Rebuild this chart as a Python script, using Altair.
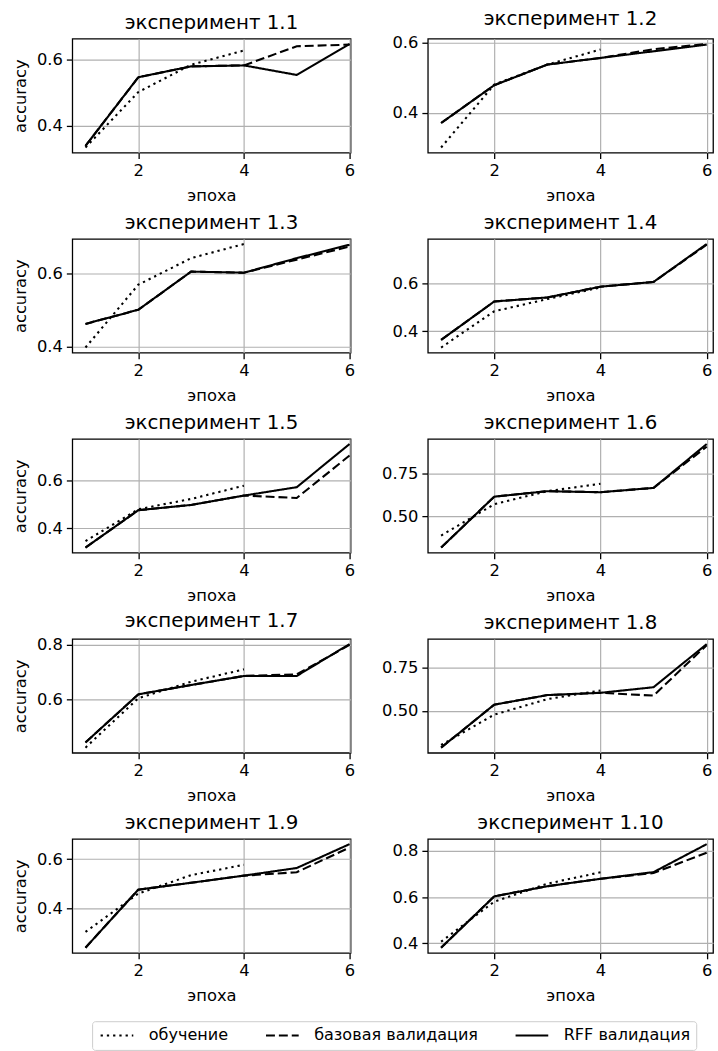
import altair as alt
import pandas as pd

FONT = "DejaVu Sans"

EPOCHS_TRAIN = [1, 2, 3, 4]
EPOCHS_VAL = [1, 2, 3, 4, 5, 6]
SERIES = ["обучение", "базовая валидация", "RFF валидация"]
TITLES = ["эксперимент 1.1", "эксперимент 1.2", "эксперимент 1.3", "эксперимент 1.4",
          "эксперимент 1.5", "эксперимент 1.6", "эксперимент 1.7", "эксперимент 1.8",
          "эксперимент 1.9", "эксперимент 1.10"]

TRAIN = [
    [0.334, 0.502, 0.585, 0.628],
    [0.301, 0.481, 0.538, 0.581],
    [0.397, 0.570, 0.643, 0.682],
    [0.331, 0.483, 0.534, 0.583],
    [0.346, 0.479, 0.522, 0.577],
    [0.388, 0.570, 0.646, 0.689],
    [0.425, 0.605, 0.665, 0.710],
    [0.305, 0.479, 0.568, 0.617],
    [0.304, 0.460, 0.535, 0.577],
    [0.407, 0.580, 0.658, 0.707],
]
BASE = [
    [0.339, 0.547, 0.580, 0.583, 0.641, 0.646],
    [0.371, 0.479, 0.538, 0.557, 0.582, 0.597],
    [0.462, 0.501, 0.606, 0.603, 0.639, 0.675],
    [0.363, 0.524, 0.541, 0.586, 0.606, 0.762],
    [0.319, 0.475, 0.497, 0.536, 0.526, 0.703],
    [0.318, 0.614, 0.646, 0.640, 0.665, 0.905],
    [0.444, 0.619, 0.653, 0.686, 0.692, 0.799],
    [0.290, 0.536, 0.591, 0.604, 0.588, 0.877],
    [0.240, 0.476, 0.504, 0.533, 0.547, 0.647],
    [0.381, 0.603, 0.647, 0.679, 0.704, 0.792],
]
RFF = [
    [0.339, 0.547, 0.580, 0.583, 0.554, 0.648],
    [0.371, 0.479, 0.538, 0.557, 0.576, 0.595],
    [0.462, 0.501, 0.606, 0.603, 0.643, 0.680],
    [0.363, 0.524, 0.541, 0.586, 0.606, 0.765],
    [0.319, 0.475, 0.497, 0.536, 0.571, 0.751],
    [0.318, 0.614, 0.646, 0.640, 0.665, 0.920],
    [0.444, 0.619, 0.653, 0.686, 0.686, 0.802],
    [0.290, 0.536, 0.591, 0.604, 0.636, 0.883],
    [0.240, 0.476, 0.504, 0.533, 0.564, 0.661],
    [0.381, 0.603, 0.647, 0.679, 0.708, 0.829],
]
Y_TICKS = [
    [0.4, 0.6], [0.4, 0.6], [0.4, 0.6], [0.4, 0.6], [0.4, 0.6],
    [0.5, 0.75], [0.6, 0.8], [0.5, 0.75], [0.4, 0.6], [0.4, 0.6, 0.8],
]
Y_FORMAT = [".1f", ".1f", ".1f", ".1f", ".1f", ".2f", ".1f", ".2f", ".1f", ".1f"]
X_TICKS = [2, 4, 6]
DASHES = [[2.3, 4], [9, 4], [1, 0]]

# wide horizontal line symbol (3x the nominal symbol diameter)
LEGEND = alt.Legend(
    title=None, orient="none", legendX=20, legendY=992, direction="horizontal",
    symbolType="M-1,0H5", symbolSize=121, symbolStrokeWidth=2, symbolStrokeColor="black",
    symbolFillColor="transparent",
    labelFont=FONT, labelFontSize=16.2, labelColor="black", labelOffset=35,
    labelLimit=400, columnPadding=33, strokeColor="#cccccc", fillColor="white",
    padding=6, cornerRadius=3,
)


def panel(i):
    rows = []
    for e, v in zip(EPOCHS_TRAIN, TRAIN[i]):
        rows.append({"epoch": e, "acc": v, "series": SERIES[0]})
    for e, v in zip(EPOCHS_VAL, BASE[i]):
        rows.append({"epoch": e, "acc": v, "series": SERIES[1]})
    for e, v in zip(EPOCHS_VAL, RFF[i]):
        rows.append({"epoch": e, "acc": v, "series": SERIES[2]})
    df = pd.DataFrame(rows)
    allv = TRAIN[i] + BASE[i] + RFF[i]
    lo, hi = min(allv), max(allv)
    m = 0.05 * (hi - lo)
    left = i % 2 == 0
    xdom = [0.75, 6.02] if left else [0.75, 6.12]
    base = alt.Chart(df).mark_line(color="black", strokeWidth=2.1).encode(
        x=alt.X("epoch:Q", scale=alt.Scale(domain=xdom, nice=False, zero=False),
                axis=alt.Axis(values=X_TICKS, format="d", title="эпоха")),
        y=alt.Y("acc:Q", scale=alt.Scale(domain=[lo - m, hi + m], nice=False, zero=False),
                axis=alt.Axis(values=Y_TICKS[i], format=Y_FORMAT[i],
                              title="accuracy" if left else None)),
        strokeDash=alt.StrokeDash("series:N",
                                  scale=alt.Scale(domain=SERIES, range=DASHES),
                                  legend=LEGEND),
    )
    layers = [base.transform_filter(alt.datum.series == s) for s in SERIES]
    return alt.layer(*layers).properties(width=281 if left else 288, height=115,
                                         title=TITLES[i])


panels = [panel(i) for i in range(10)]

chart = alt.concat(
    *panels, columns=2, spacing={"row": 87, "column": 71}, bounds="flush", align="all"
).resolve_scale(strokeDash="shared").properties(
    padding={"left": 12, "top": 3, "right": 4, "bottom": 1}
).configure_view(
    stroke="black", strokeWidth=1.3
).configure_axis(
    domain=False, grid=True, gridColor="#b0b0b0", gridWidth=1.2,
    tickColor="black", tickWidth=1.3, tickSize=6,
    labelFont=FONT, labelFontSize=16.5, labelColor="black", labelFlush=False,
    labelOverlap=False,
    titleFont=FONT, titleFontSize=16.5, titleFontWeight="normal", titleColor="black",
).configure_axisX(
    labelPadding=4, titlePadding=9
).configure_axisY(
    labelPadding=4, titlePadding=8
).configure_title(
    font=FONT, fontSize=20, fontWeight="normal", color="black", offset=6,
    anchor="middle", frame="group"
)

chart.save("out.html", embed_options={"renderer": "svg", "actions": False})
